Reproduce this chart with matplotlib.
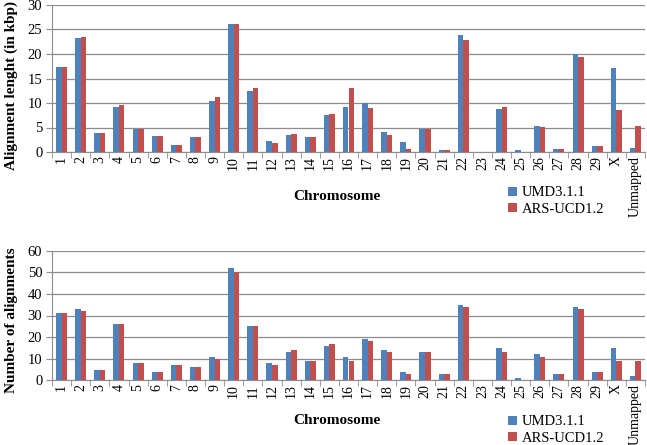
import matplotlib.pyplot as plt
import numpy as np

plt.rcParams['font.family'] = ['Liberation Serif', 'DejaVu Serif']

chromosomes = [str(i) for i in range(1, 30)] + ['X', 'Unmapped']

length_umd = [17.4, 23.3, 3.9, 9.2, 4.7, 3.3, 1.5, 3.0, 10.5, 26.2,
              12.4, 2.3, 3.5, 3.1, 7.5, 9.2, 10.0, 4.0, 2.0, 4.7,
              0.4, 23.9, 0.0, 8.7, 0.5, 5.3, 0.6, 19.9, 1.2, 17.2, 0.8]
length_ars = [17.4, 23.4, 3.9, 9.5, 4.7, 3.3, 1.5, 3.0, 11.3, 26.2,
              13.0, 1.8, 3.7, 3.1, 7.8, 13.0, 8.9, 3.4, 0.6, 4.7,
              0.4, 22.8, 0.0, 9.2, 0.0, 5.1, 0.6, 19.4, 1.2, 8.5, 5.4]

count_umd = [31, 33, 5, 26, 8, 4, 7, 6, 11, 52,
             25, 8, 13, 9, 16, 11, 19, 14, 4, 13,
             3, 35, 0, 15, 1, 12, 3, 34, 4, 15, 2]
count_ars = [31, 32, 5, 26, 8, 4, 7, 6, 10, 50,
             25, 7, 14, 9, 17, 9, 18, 13, 3, 13,
             3, 34, 0, 13, 0, 11, 3, 33, 4, 9, 9]

blue = '#4F81BD'
red = '#C0504D'
W, H = 647, 445


def draw(ax, umd, ars, ymax, step, ylabel, label_y, legend_y):
    x = np.arange(len(chromosomes))
    w = 0.29
    ax.bar(x - w / 2, umd, w, color=blue, label='UMD3.1.1', zorder=3)
    ax.bar(x + w / 2, ars, w, color=red, label='ARS-UCD1.2', zorder=3)
    ax.set_xlim(-0.5, len(chromosomes) - 0.5)
    ax.set_ylim(0, ymax)
    ax.set_yticks(np.arange(0, ymax + 1, step))
    ax.yaxis.grid(True, color='#8c8c8c', linewidth=0.9, zorder=0)
    ax.set_xticks(x)
    ax.set_xticklabels(chromosomes, rotation=90, fontsize=10)
    ax.set_xticks(np.arange(-0.5, len(chromosomes), 1), minor=True)
    ax.tick_params(axis='x', which='major', length=0, pad=3)
    ax.tick_params(axis='x', which='minor', length=4, color='#8c8c8c')
    ax.tick_params(axis='y', length=4, color='#8c8c8c', labelsize=10.5, pad=3)
    for s in ['top', 'right']:
        ax.spines[s].set_visible(False)
    for s in ['left', 'bottom']:
        ax.spines[s].set_color('#8c8c8c')
    ax.set_ylabel(ylabel, fontsize=11, fontweight='bold')
    ax.yaxis.set_label_coords((18 - 52) / 593, label_y)
    ax.legend(loc='upper left', bbox_to_anchor=(501 / W, legend_y / H),
              bbox_transform=ax.figure.transFigure, frameon=False,
              fontsize=10.5, handlelength=0.6, handleheight=0.6,
              handletextpad=0.3, labelspacing=0.25, borderpad=0)


fig = plt.figure(figsize=(W / 100, H / 100), dpi=100)
ax1 = fig.add_axes([52 / W, (H - 152) / H, 593 / W, 147 / H])
ax2 = fig.add_axes([52 / W, (H - 380.3) / H, 593 / W, 129.6 / H])

draw(ax1, length_umd, length_ars, 30, 5, 'Alignment lenght (in kbp)',
     0.45, H - 179)
draw(ax2, count_umd, count_ars, 60, 10, 'Number of alignments',
     0.465, H - 408)

fig.text(337 / W, 1 - 197 / H, 'Chromosome', ha='center', va='center',
         fontsize=11, fontweight='bold')
fig.text(337 / W, 1 - 421 / H, 'Chromosome', ha='center', va='center',
         fontsize=11, fontweight='bold')

fig.savefig('out.png', dpi=100)
